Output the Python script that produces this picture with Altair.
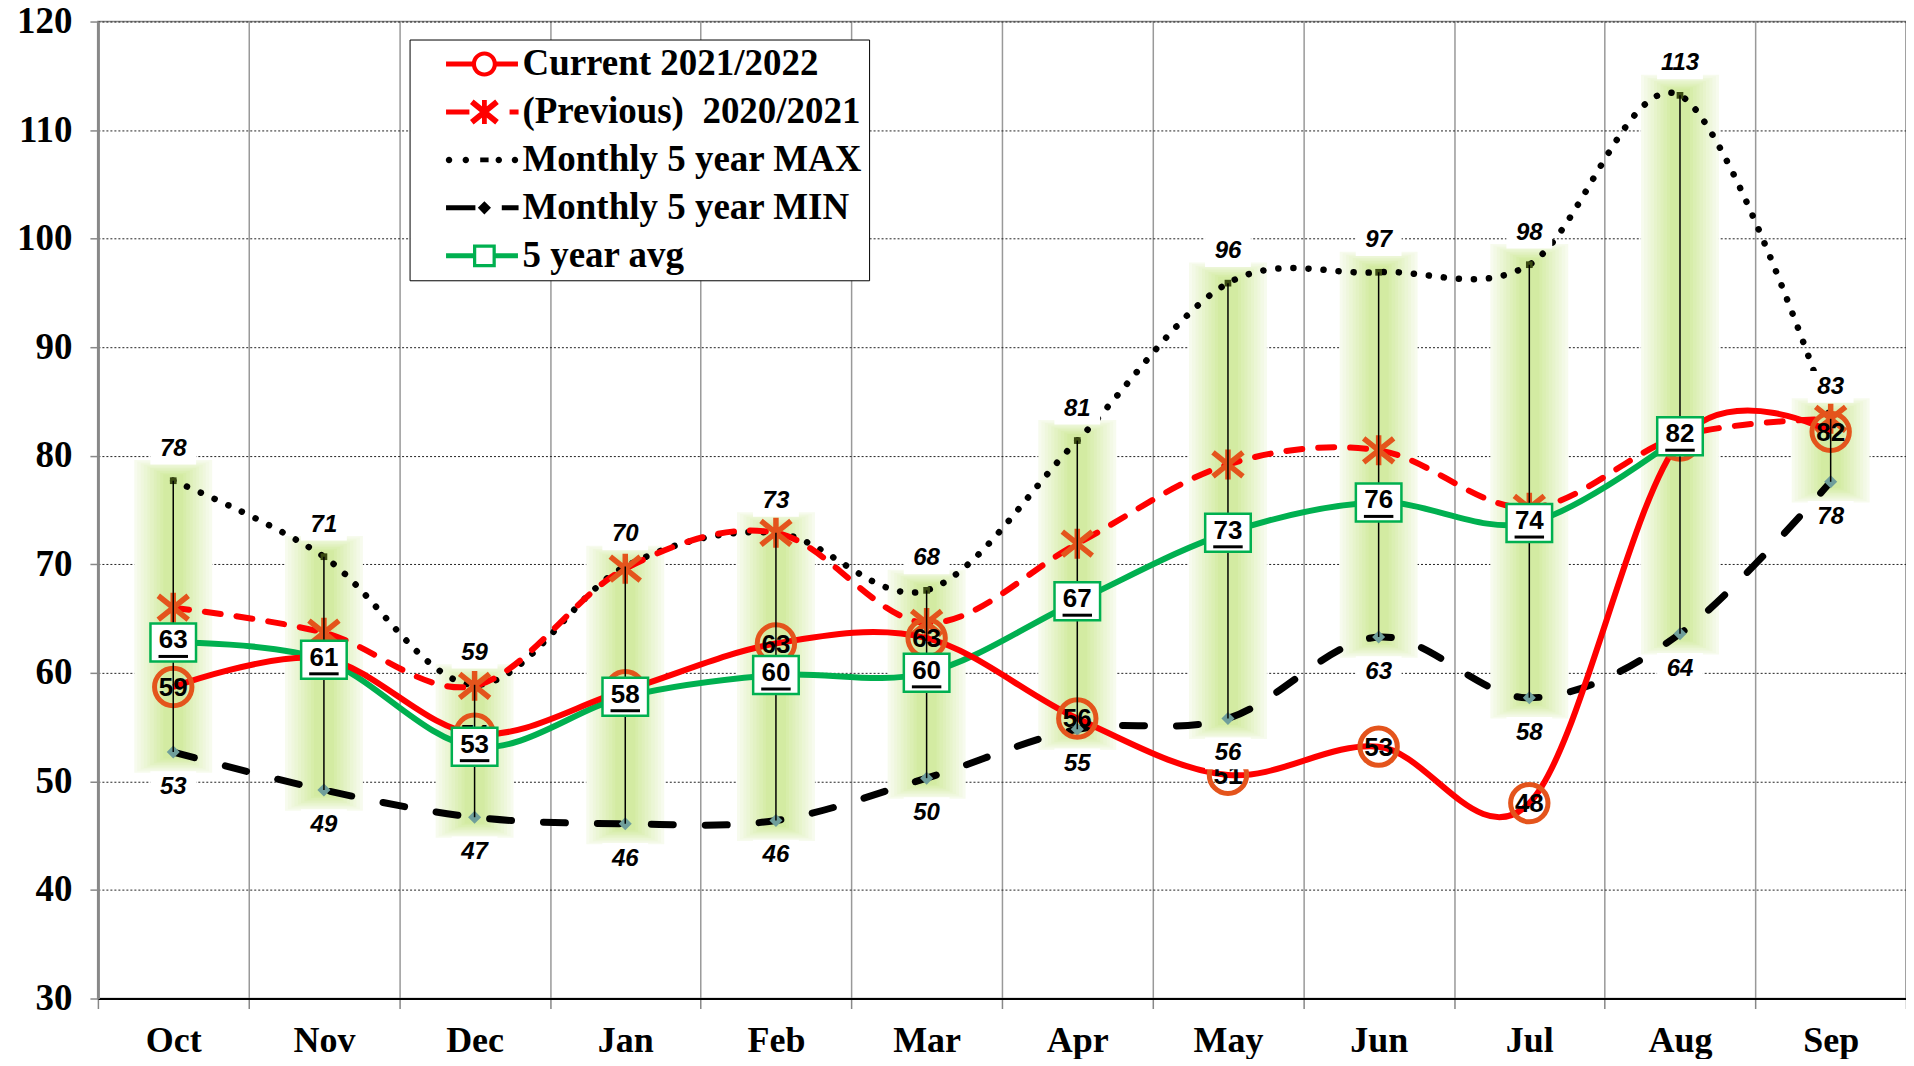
import altair as alt
import pandas as pd

# ---------------- data ----------------
months = ["Oct", "Nov", "Dec", "Jan", "Feb", "Mar", "Apr", "May", "Jun", "Jul", "Aug", "Sep"]
current = [58.7, 61.3, 54.4, 58.4, 62.7, 63.2, 55.8, 50.6, 53.2, 48.0, 81.4, 82.2]
previous = [66.0, 63.7, 58.8, 69.6, 72.9, 64.6, 71.9, 79.2, 80.5, 75.2, 81.8, 83.4]
max5 = [77.7, 70.7, 58.9, 69.8, 72.9, 67.6, 81.4, 95.9, 96.9, 97.6, 113.2, 83.4]
min5 = [52.7, 49.2, 46.7, 46.1, 46.4, 50.3, 54.8, 55.8, 63.3, 57.7, 63.6, 77.6]
avg5 = [62.8, 61.2, 53.2, 57.8, 59.8, 60.0, 66.6, 72.9, 75.7, 73.8, 81.8, None]

series_names = [
    "Current 2021/2022",
    "(Previous)\u00a0 2020/2021",
    "Monthly 5 year MAX",
    "Monthly 5 year MIN",
    "5 year avg",
]
y_ticks = [30, 40, 50, 60, 70, 80, 90, 100, 110, 120]

rows = []
for name, vals in zip(series_names, [current, previous, max5, min5, avg5]):
    for i, (m, v) in enumerate(zip(months, vals)):
        if v is not None:
            rows.append({"month": m, "idx": i, "series": name, "value": v})
long_df = pd.DataFrame(rows)
wide_df = pd.DataFrame({"month": months, "mn": min5, "mx": max5})

# ---------------- styles ----------------
RED = "#FF0000"
ORANGE = "#E4541C"
GREEN = "#00B050"
NUMFONT = "Liberation Sans"
SERIF = "Liberation Serif"

x_enc = alt.X(
    "month:N",
    sort=months,
    title=None,
    scale=alt.Scale(type="band", domain=months, paddingInner=0, paddingOuter=0),
    axis=alt.Axis(
        labelFont=SERIF, labelFontSize=36, labelFontWeight="bold", labelColor="black",
        labelAngle=0, labelPadding=15, tickBand="extent", tickSize=10, tickColor="#888",
        tickWidth=1.5, grid=True, gridColor="#999", gridWidth=1.5,
        domainColor="black", domainWidth=2,
    ),
)
y_scale = alt.Scale(domain=[30, 120], nice=False, zero=False)
y_axis = alt.Axis(
    values=y_ticks, labelFont=SERIF, labelFontSize=37, labelFontWeight="bold",
    labelColor="black", labelPadding=18, tickSize=8, tickColor="#888", tickWidth=1.5,
    grid=True, gridColor="#222", gridDash=[2, 2], gridWidth=1,
    domainColor="#888", domainWidth=3,
)


def Y(field):
    return alt.Y(field, title=None, scale=y_scale, axis=y_axis)


def series(name):
    return alt.Chart(long_df).transform_filter(alt.datum.series == name)


# ---------------- glow bands and high-low lines ----------------
def mix(c1, c2, t):
    a = [int(c1[i:i + 2], 16) for i in (1, 3, 5)]
    b = [int(c2[i:i + 2], 16) for i in (1, 3, 5)]
    return "#" + "".join(f"{round(x + (y - x) * t):02X}" for x, y in zip(a, b))


glow_layers = []
N_GLOW = 10
for k in range(N_GLOW):
    t = k / (N_GLOW - 1)
    w = round(78 - t * 58)
    pad = round(1.9 - t * 1.3, 2)
    col = mix("#F7FBEE", "#D3EBA2", t)
    glow_layers.append(
        alt.Chart(wide_df)
        .transform_calculate(lo=f"datum.mn - {pad}", hi=f"datum.mx + {pad}")
        .mark_bar(width=w, color=col)
        .encode(x=x_enc, y=Y("lo:Q"), y2="hi:Q")
    )

hilo = alt.Chart(wide_df).mark_rule(color="black", strokeWidth=1.5).encode(
    x=x_enc, y=Y("mn:Q"), y2="mx:Q"
)


def line(name, color, width, dash=None, cap="butt"):
    kw = dict(interpolate="cardinal", tension=0, color=color, strokeWidth=width, strokeCap=cap)
    if dash:
        kw["strokeDash"] = dash
    return series(name).mark_line(**kw).encode(x=x_enc, y=Y("value:Q"), order="idx:Q")


max_line = line(series_names[2], "black", 6.5, [0.1, 15], "round")
min_line = line(series_names[3], "black", 7, [22, 32], "round")
prev_line = line(series_names[1], RED, 6, [16, 16], "round")
avg_line = line(series_names[4], GREEN, 6)
cur_line = line(series_names[0], RED, 6)

min_pts = series(series_names[3]).mark_point(
    shape="diamond", size=170, filled=True, fill="#6F9E9B", opacity=1
).encode(x=x_enc, y=Y("value:Q"))
max_pts = series(series_names[2]).mark_point(
    shape="square", size=45, filled=True, fill="#3A4A12", opacity=1
).encode(x=x_enc, y=Y("value:Q"))

STAR = "M-1,-0.8L1,0.8M-1,0.8L1,-0.8M0,-1V1"
prev_pts = series(series_names[1]).mark_point(
    shape=STAR, size=900, filled=False, stroke=ORANGE, strokeWidth=5.5, opacity=1
).encode(x=x_enc, y=Y("value:Q"))

cur_pts = series(series_names[0]).mark_point(
    shape="circle", size=1400, filled=False, stroke=ORANGE, strokeWidth=5, opacity=1
).encode(x=x_enc, y=Y("value:Q"))
cur_txt = series(series_names[0]).mark_text(
    font=NUMFONT, fontWeight="bold", fontSize=26, color="black", baseline="middle", dy=1
).encode(x=x_enc, y=Y("value:Q"), text=alt.Text("value:Q", format=".0f"))

BOX = "M-1.2,-1H1.2V1H-1.2Z"
avg_box = series(series_names[4]).mark_point(
    shape=BOX, size=1444, filled=True, fill="white", stroke=GREEN, strokeWidth=2.5, opacity=1
).encode(x=x_enc, y=Y("value:Q"))
avg_txt = series(series_names[4]).mark_text(
    font=NUMFONT, fontWeight="bold", fontSize=26, color="black", baseline="middle", dy=-2
).encode(x=x_enc, y=Y("value:Q"), text=alt.Text("value:Q", format=".0f"))
avg_ul = series(series_names[4]).mark_point(
    shape="M-1,0H1", size=870, filled=False, stroke="black", strokeWidth=3, yOffset=14, opacity=1
).encode(x=x_enc, y=Y("value:Q"))

LBOX = "M-1.45,-1H1.45V1H-1.45Z"


def extreme_labels(name, off):
    bg = series(name).mark_point(
        shape=LBOX, size=1000, filled=True, fill="white", strokeWidth=0, yOffset=off, opacity=1
    ).encode(x=x_enc, y=Y("value:Q"))
    tx = series(name).mark_text(
        font=NUMFONT, fontWeight="bold", fontStyle="italic", fontSize=24, color="black",
        baseline="middle", dy=off
    ).encode(x=x_enc, y=Y("value:Q"), text=alt.Text("value:Q", format=".0f"))
    return [bg, tx]


# ---------------- legend (symbols built as filled paths) ----------------
def f(v):
    return f"{v:.3f}".rstrip("0").rstrip(".")


def rect(x0, x1, t=0.21):
    return f"M{f(x0)},{f(-t)}H{f(x1)}V{f(t)}H{f(x0)}Z"


def disc(cx, r, sweep=1):
    return (f"M{f(cx + r)},0A{f(r)},{f(r)},0,1,{sweep},{f(cx - r)},0"
            f"A{f(r)},{f(r)},0,1,{sweep},{f(cx + r)},0Z")


def quad(p1, p2, t):
    (x1, y1), (x2, y2) = p1, p2
    dx, dy = x2 - x1, y2 - y1
    ln = (dx * dx + dy * dy) ** 0.5
    nx, ny = -dy / ln * t, dx / ln * t
    pts = [(x1 + nx, y1 + ny), (x2 + nx, y2 + ny), (x2 - nx, y2 - ny), (x1 - nx, y1 - ny)]
    area = sum(pts[i][0] * pts[(i + 1) % 4][1] - pts[(i + 1) % 4][0] * pts[i][1] for i in range(4))
    if area < 0:
        pts = pts[::-1]
    return "M" + "L".join(f"{f(a)},{f(b)}" for a, b in pts) + "Z"


C = 2.2
sym_current = rect(-1, 1.2) + rect(3.2, 5) + disc(C, 1.05, 1) + disc(C, 0.7, 0)
sym_prev = (rect(-1, 0.95) + rect(4.3, 5.05)
            + quad((C - 1.05, -0.85), (C + 1.05, 0.85), 0.24)
            + quad((C - 1.05, 0.85), (C + 1.05, -0.85), 0.24)
            + quad((C, -1.0), (C, 1.0), 0.2))
sym_max = "".join(disc(c, 0.27) for c in [-0.75, 0.65, 3.4, 4.75]) + rect(C - 0.35, C + 0.35, 0.2)
sym_min = rect(-1, 1.45) + rect(3.65, 5.05) + (
    f"M{f(C)},-0.55L{f(C + 0.55)},0L{f(C)},0.55L{f(C - 0.55)},0Z")
sym_avg = (rect(-1, 1.25) + rect(3.15, 5)
           + f"M{f(C - 0.95)},-0.95H{f(C + 0.95)}V0.95H{f(C - 0.95)}Z"
           + f"M{f(C - 0.68)},-0.68V0.68H{f(C + 0.68)}V-0.68Z")

legend_paths = [sym_current, sym_prev, sym_max, sym_min, sym_avg]
legend_colors = [RED, RED, "black", "black", GREEN]

leg = alt.Legend(
    title=None, orient="none", legendX=312, legendY=18, direction="vertical",
    fillColor="white", strokeColor="black", padding=6,
    labelFont=SERIF, labelFontSize=37, labelFontWeight="bold", labelColor="black",
    labelOffset=46, rowPadding=10, symbolSize=576, symbolStrokeWidth=0, labelLimit=600,
    symbolOffset=24,
)
legend_layer = (
    alt.Chart(long_df)
    .transform_filter("false")
    .mark_point(filled=True, opacity=1)
    .encode(
        x=x_enc,
        y=Y("value:Q"),
        fill=alt.Fill("series:N", scale=alt.Scale(domain=series_names, range=legend_colors), legend=leg),
        shape=alt.Shape("series:N", scale=alt.Scale(domain=series_names, range=legend_paths), legend=leg),
    )
)

layers = (
    glow_layers
    + [max_line, min_line, min_pts, max_pts, prev_line, prev_pts, avg_line, cur_line,
       cur_pts, hilo, cur_txt, avg_box, avg_txt, avg_ul]
    + extreme_labels(series_names[2], -32)
    + extreme_labels(series_names[3], 35)
    + [legend_layer]
)

chart = (
    alt.layer(*layers)
    .properties(
        width=1810,
        height=978,
        autosize=alt.AutoSizeParams(type="none"),
        padding={"left": 90, "top": 13, "right": 0, "bottom": 60},
        background="white",
    )
    .configure_view(stroke="#888", strokeWidth=1.5)
)

chart.save("out.html", embed_options={"renderer": "svg", "actions": False})
